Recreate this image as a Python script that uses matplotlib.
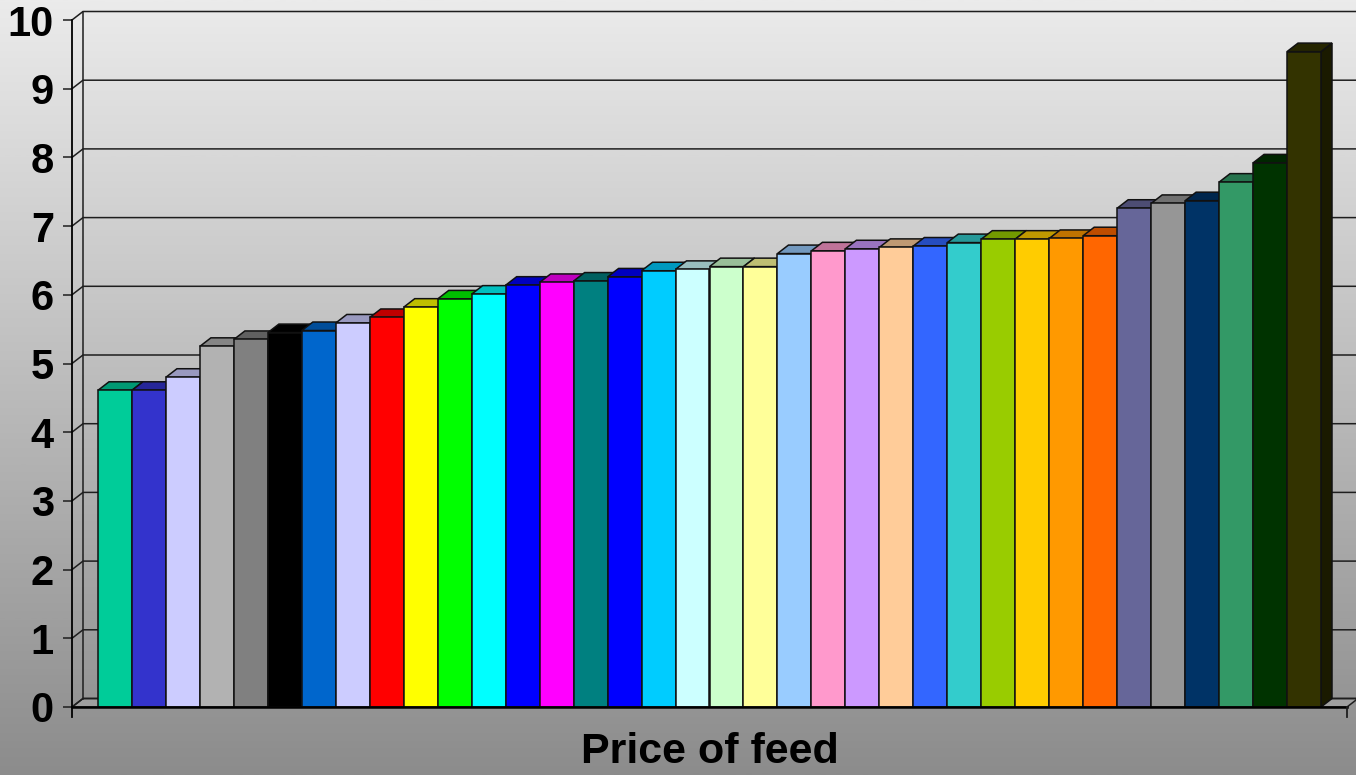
import numpy as np
import matplotlib
matplotlib.use("Agg")
import matplotlib.pyplot as plt
from matplotlib.patches import Polygon
from matplotlib.colors import to_rgb, LinearSegmentedColormap

# ---------------- data ----------------
category = "Price of feed"
values = [4.61, 4.61, 4.80, 5.25, 5.35, 5.45, 5.48, 5.59, 5.67, 5.82,
          5.94, 6.01, 6.14, 6.18, 6.20, 6.26, 6.35, 6.37, 6.41, 6.41,
          6.60, 6.64, 6.67, 6.69, 6.71, 6.76, 6.81, 6.81, 6.82, 6.86,
          7.26, 7.33, 7.37, 7.64, 7.92, 9.54]
colors = ["#00CC99", "#3333CC", "#CCCCFF", "#B2B2B2", "#808080", "#000000",
          "#0066CC", "#CCCCFF", "#FF0000", "#FFFF00", "#00FF00", "#00FFFF",
          "#0000FF", "#FF00FF", "#008080", "#0000FF", "#00CCFF", "#CCFFFF",
          "#CCFFCC", "#FFFF99", "#99CCFF", "#FF99CC", "#CC99FF", "#FFCC99",
          "#3366FF", "#33CCCC", "#99CC00", "#FFCC00", "#FF9900", "#FF6600",
          "#666699", "#969696", "#003366", "#339966", "#003300", "#333300"]
yticks = list(range(0, 11))
ytick_labels = [str(t) for t in yticks]

# ---------------- layout ----------------
W, H = 1356, 775
fig = plt.figure(figsize=(W / 100, H / 100), dpi=100)

ax_left_px = 72
ax_bottom_px = 717          # from top of figure
zero_px = 707               # y pixel of value 0 (front)
unit_px = 68.7
pitch_px = (1321 - 98) / len(values)
margin_px = 26
ddx_px, ddy_px = 11.0, 8.5

x0 = -margin_px / pitch_px
x1 = x0 + (W - ax_left_px) / pitch_px
y0 = -(ax_bottom_px - zero_px) / unit_px
y1 = zero_px / unit_px
DX = ddx_px / pitch_px
DY = ddy_px / unit_px
n = len(values)
xR = n + margin_px / pitch_px

# background gradient
bg = fig.add_axes([0, 0, 1, 1])
bg.imshow(np.linspace(0, 1, 512).reshape(-1, 1),
          cmap=LinearSegmentedColormap.from_list("g", ["#ebebeb", "#8c8c8c"]),
          aspect="auto", extent=[0, 1, 0, 1])
bg.axis("off")
bg.set_zorder(-5)

ax = fig.add_axes([ax_left_px / W, (H - ax_bottom_px) / H,
                   (W - ax_left_px) / W, ax_bottom_px / H])
ax.patch.set_visible(False)
ax.set_xlim(x0, x1)
ax.set_ylim(y0, y1)

gridc = "#1e1e1e"
# floor
ax.add_patch(Polygon([(x0, 0), (x0 + DX, DY), (xR + DX, DY), (xR, 0)],
                     closed=True, facecolor="#a0a0a0", edgecolor=gridc,
                     linewidth=1.1, zorder=1, clip_on=False))
# walls & grid
for v in yticks:
    ax.plot([x0, x0 + DX, x1 + 2], [v, v + DY, v + DY], color=gridc,
            lw=1.1, zorder=1.5, clip_on=True, solid_joinstyle="miter")
ax.plot([x0 + DX, x0 + DX], [DY, yticks[-1] + DY], color=gridc, lw=1.1, zorder=1.5)

# bars
bars = ax.bar(np.arange(n), values, width=1.0, align="edge", color=colors,
              edgecolor="#111111", linewidth=1.1)
for i, (rect, v, c) in enumerate(zip(bars, values, colors)):
    base = np.array(to_rgb(c))
    z = 3 + i * 0.01
    top = Polygon([(i, v), (i + DX, v + DY), (i + 1 + DX, v + DY), (i + 1, v)],
                  closed=True, facecolor=base * 0.75, edgecolor="#111111",
                  linewidth=1.1, zorder=z)
    side = Polygon([(i + 1, 0), (i + 1 + DX, DY), (i + 1 + DX, v + DY), (i + 1, v)],
                   closed=True, facecolor=base * 0.5, edgecolor="#111111",
                   linewidth=1.1, zorder=z)
    ax.add_patch(side)
    ax.add_patch(top)
    rect.set_zorder(z + 0.005)

# front x axis line and end ticks
ax.plot([x0, xR], [0, 0], color="black", lw=1.8, zorder=10, clip_on=False)
ax.plot([xR, xR], [0, y0], color=gridc, lw=1.3, zorder=10, clip_on=False)

# spines / ticks
for s in ["top", "right", "bottom"]:
    ax.spines[s].set_visible(False)
ax.spines["left"].set_bounds(y0, yticks[-1])
ax.spines["left"].set_linewidth(1.3)
ax.spines["left"].set_color("black")
ax.spines["left"].set_zorder(10)

ax.set_yticks(yticks)
ax.set_yticklabels(ytick_labels, fontfamily="Liberation Sans",
                   fontweight="bold", fontsize=30)
ax.tick_params(axis="y", direction="out", length=6.5, width=1.1,
               pad=6.5, color=gridc)
ax.set_xticks([n / 2])
ax.set_xticklabels([category], fontfamily="Liberation Sans",
                   fontweight="bold", fontsize=31)
ax.tick_params(axis="x", length=0, pad=10.5)

fig.savefig("out.png", dpi=100)
